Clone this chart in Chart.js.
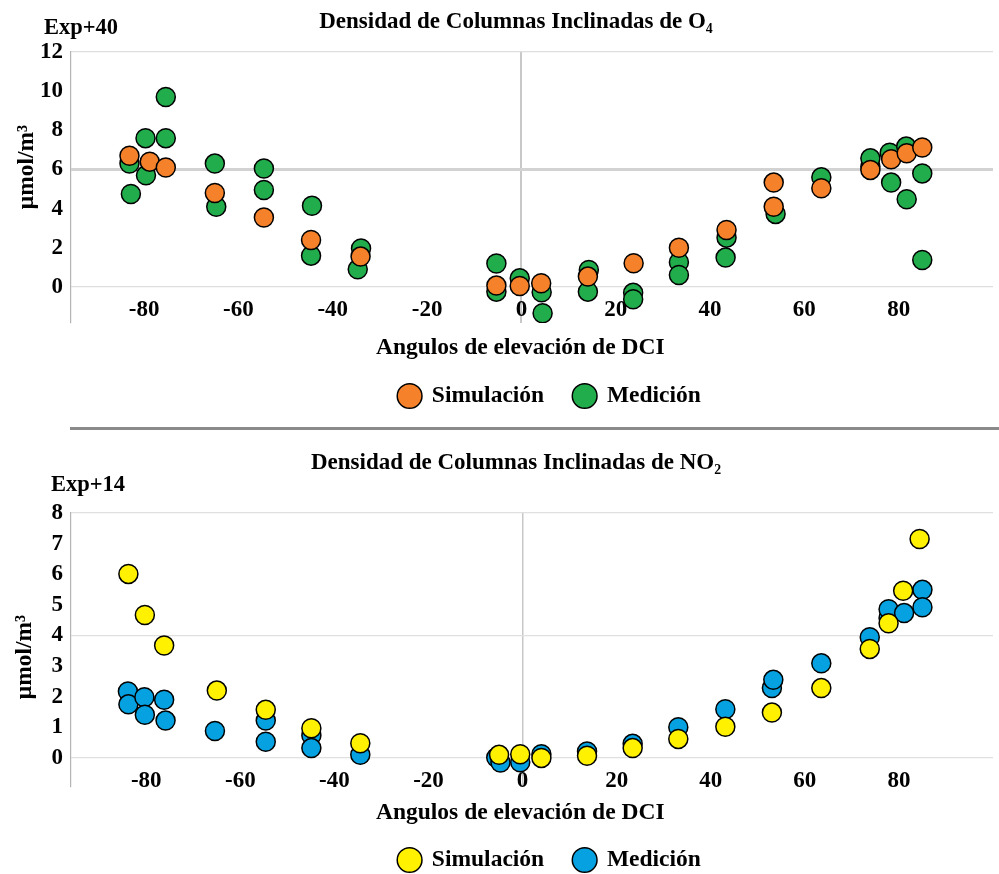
<!DOCTYPE html>
<html lang="es">
<head>
<meta charset="UTF-8">
<title>Densidad de Columnas Inclinadas</title>
<script src="https://cdn.jsdelivr.net/npm/chart.js@4"></script>
<style>
    html, body { margin: 0; padding: 0; background: #fff; overflow: hidden; }
    #page { position: relative; width: 999px; height: 874px; }
    #topBox { position: absolute; left: 0; top: 0; width: 999px; height: 427px; }
    #sep { position: absolute; left: 70px; top: 427px; width: 929px; height: 3px; background: #8a8a8a; }
    #botBox { position: absolute; left: 0; top: 431px; width: 999px; height: 452px; }
</style>
</head>
<body>
<div id="page">
    <div id="topBox"><canvas id="chartO4"></canvas></div>
    <div id="sep"></div>
    <div id="botBox"><canvas id="chartNO2"></canvas></div>
</div>

<script>
// angulos de elevacion (x) y densidad (y) de cada serie
const o4SimAngle = [-83.1, -78.8, -75.4, -65.0, -54.6, -44.6, -34.1, -5.3, -0.35, 4.2, 14.1, 23.8, 33.4, 43.5, 53.5, 53.5, 63.6, 74.0, 78.4, 81.7, 85.0];
const o4SimValue = [6.7, 6.4, 6.1, 4.8, 3.55, 2.4, 1.55, 0.07, 0.05, 0.19, 0.53, 1.21, 2.0, 2.91, 5.33, 4.1, 5.04, 5.98, 6.52, 6.83, 7.12];

const o4MedAngle = [-75.4, -79.7, -75.4, -83.1, -79.6, -82.8, -65.0, -64.7, -54.6, -54.6, -44.4, -44.6, -34.0, -34.7, -5.3, -5.3, -0.35, 4.3, 4.5, 14.3, 14.1, 23.7, 23.7, 33.4, 33.4, 43.5, 43.3, 53.9, 63.6, 74.0, 74.0, 78.1, 78.4, 81.6, 81.7, 85.0, 85.0];
const o4MedValue = [9.7, 7.6, 7.6, 6.3, 5.7, 4.75, 6.3, 4.1, 6.05, 4.95, 4.15, 1.6, 1.97, 0.9, 1.2, -0.24, 0.44, -0.27, -1.34, 0.87, -0.24, -0.3, -0.63, 1.26, 0.61, 2.52, 1.5, 3.73, 5.6, 6.14, 6.57, 6.86, 5.33, 7.17, 4.48, 5.8, 1.38];

const no2SimAngle = [-83.8, -80.3, -76.2, -65.0, -54.6, -44.9, -34.5, -5.0, -0.5, 4.0, 13.7, 23.4, 33.1, 43.1, 53.0, 63.5, 73.8, 77.8, 80.9, 84.4];
const no2SimValue = [6.01, 4.67, 3.67, 2.2, 1.57, 0.97, 0.48, 0.1, 0.12, 0.0, 0.07, 0.32, 0.62, 1.02, 1.48, 2.28, 3.56, 4.4, 5.46, 7.15];

const no2MedAngle = [-83.9, -83.8, -80.4, -80.3, -76.2, -75.9, -65.4, -54.6, -54.6, -44.9, -44.9, -34.5, -5.6, -4.7, -0.5, 4.0, 13.7, 23.4, 33.1, 43.1, 53.0, 53.3, 63.5, 73.8, 77.8, 77.8, 81.1, 85.0, 85.0];
const no2MedValue = [2.17, 1.75, 1.98, 1.41, 1.9, 1.22, 0.88, 1.22, 0.53, 0.73, 0.32, 0.1, 0.01, -0.15, -0.14, 0.12, 0.21, 0.46, 1.0, 1.59, 2.28, 2.55, 3.09, 3.94, 4.57, 4.86, 4.73, 5.49, 4.92];

const xTickValues = [-80, -60, -40, -20, 0, 20, 40, 60, 80];
const o4YTicks = [0, 2, 4, 6, 8, 10, 12];
const no2YTicks = [0, 1, 2, 3, 4, 5, 6, 7, 8];

const FONT = '"Liberation Serif", "Times New Roman", serif';

function toPoints(xs, ys) {
    return xs.map((x, i) => ({ x: x, y: ys[i] }));
}

// texto "Exp+NN", unidad del eje y, y corrimiento de la leyenda
const sideText = {
    id: 'sideText',
    afterLayout(chart, args, opts) {
        chart.legend.left += opts.legendDx;
        chart.legend.right += opts.legendDx;
    },
    afterDraw(chart, args, opts) {
        const ctx = chart.ctx;
        ctx.save();
        ctx.fillStyle = '#000';
        ctx.font = 'bold 22.5px ' + FONT;
        ctx.textBaseline = 'middle';
        ctx.textAlign = 'left';
        ctx.fillText(opts.exp, opts.expX, opts.expY);
        ctx.font = 'bold 23.5px ' + FONT;
        ctx.translate(opts.unitX, opts.unitY);
        ctx.rotate(-Math.PI / 2);
        ctx.textAlign = 'center';
        ctx.fillText('μmol/m³', 0, 0);
        ctx.restore();
    }
};

function makeChart(id, cfg) {
    return new Chart(document.getElementById(id), {
        type: 'scatter',
        data: {
            datasets: [
                {
                    label: 'Simulación',
                    data: cfg.sim,
                    backgroundColor: cfg.simColor,
                    borderColor: '#000',
                    borderWidth: 1.5,
                    pointRadius: 9.5,
                    pointHoverRadius: 9.5
                },
                {
                    label: 'Medición',
                    data: cfg.med,
                    backgroundColor: cfg.medColor,
                    borderColor: '#000',
                    borderWidth: 1.5,
                    pointRadius: 9.5,
                    pointHoverRadius: 9.5
                }
            ]
        },
        options: {
            responsive: true,
            maintainAspectRatio: false,
            animation: false,
            layout: { autoPadding: false, padding: { left: 39, right: 6, top: 0, bottom: cfg.padBottom } },
            plugins: {
                title: {
                    display: true,
                    text: cfg.title,
                    color: '#000',
                    font: { family: FONT, size: 23, weight: 'bold' },
                    padding: cfg.titlePad
                },
                legend: {
                    position: 'bottom',
                    fullSize: false,
                    labels: {
                        usePointStyle: true,
                        pointStyle: 'circle',
                        boxWidth: 21,
                        boxHeight: 17.5,
                        padding: 30,
                        color: '#000',
                        font: { family: FONT, size: 23.5, weight: 'bold' }
                    }
                },
                tooltip: { enabled: false },
                sideText: cfg.side
            },
            scales: {
                x: {
                    type: 'linear',
                    min: cfg.xMin,
                    max: 100,
                    afterBuildTicks: s => { s.ticks = xTickValues.map(v => ({ value: v })); },
                    afterFit: s => { s.height = 31.25; },
                    grid: {
                        drawTicks: false,
                        color: c => c.tick && c.tick.value === 0 ? '#c8c8c8' : 'transparent',
                        lineWidth: cfg.zeroWidth
                    },
                    border: { display: false },
                    ticks: {
                        color: '#000',
                        mirror: true,
                        padding: cfg.xTickPad,
                        maxRotation: 0,
                        autoSkip: false,
                        font: { family: FONT, size: 23, weight: 'bold' }
                    },
                    title: {
                        display: true,
                        text: 'Angulos de elevación de DCI    ',
                        color: '#000',
                        padding: { top: 0, bottom: cfg.xTitlePad },
                        font: { family: FONT, size: 23.5, weight: 'bold' }
                    }
                },
                y: {
                    min: cfg.yMin,
                    max: cfg.yMax,
                    afterBuildTicks: s => { s.ticks = cfg.yTicks.map(v => ({ value: v })); },
                    afterFit: s => { s.width = 32; },
                    grid: {
                        drawTicks: false,
                        color: cfg.gridColor,
                        lineWidth: cfg.gridWidth
                    },
                    border: { display: true, color: '#b4b4b4', width: 1.2 },
                    ticks: {
                        color: '#000',
                        padding: 8,
                        font: { family: FONT, size: 23, weight: 'bold' }
                    }
                }
            }
        },
        plugins: [sideText]
    });
}

makeChart('chartO4', {
    title: 'Densidad de Columnas Inclinadas de O₄',
    sim: toPoints(o4SimAngle, o4SimValue),
    med: toPoints(o4MedAngle, o4MedValue),
    simColor: '#F5822A',
    medColor: '#22AD4C',
    xMin: -95.5,
    yMin: -1.84,
    yMax: 12,
    yTicks: o4YTicks,
    titlePad: { top: 8.2, bottom: 16.2 },
    padBottom: 9.25,
    xTickPad: -1.3,
    xTitlePad: -7.5,
    zeroWidth: 2,
    gridColor: c => c.tick.value === 6 ? '#d2d2d2' : (c.tick.value % 6 === 0 ? '#dedede' : 'transparent'),
    gridWidth: c => c.tick.value === 6 ? 3 : 1.2,
    side: { exp: 'Exp+40', expX: 44, expY: 28.5, unitX: 27, unitY: 167, legendDx: 18 }
});

makeChart('chartNO2', {
    title: 'Densidad de Columnas Inclinadas de NO₂',
    sim: toPoints(no2SimAngle, no2SimValue),
    med: toPoints(no2MedAngle, no2MedValue),
    simColor: '#FFF100',
    medColor: '#05A1E0',
    xMin: -96,
    yMin: -0.95,
    yMax: 8,
    yTicks: no2YTicks,
    titlePad: { top: 18.7, bottom: 35.7 },
    padBottom: 1.25,
    xTickPad: -8.3,
    xTitlePad: -8.3,
    zeroWidth: 1.5,
    gridColor: c => c.tick.value % 4 === 0 ? '#e0e0e0' : 'transparent',
    gridWidth: 1.2,
    side: { exp: 'Exp+14', expX: 51, expY: 54.5, unitX: 25, unitY: 226, legendDx: 18 }
});
</script>
</body>
</html>
